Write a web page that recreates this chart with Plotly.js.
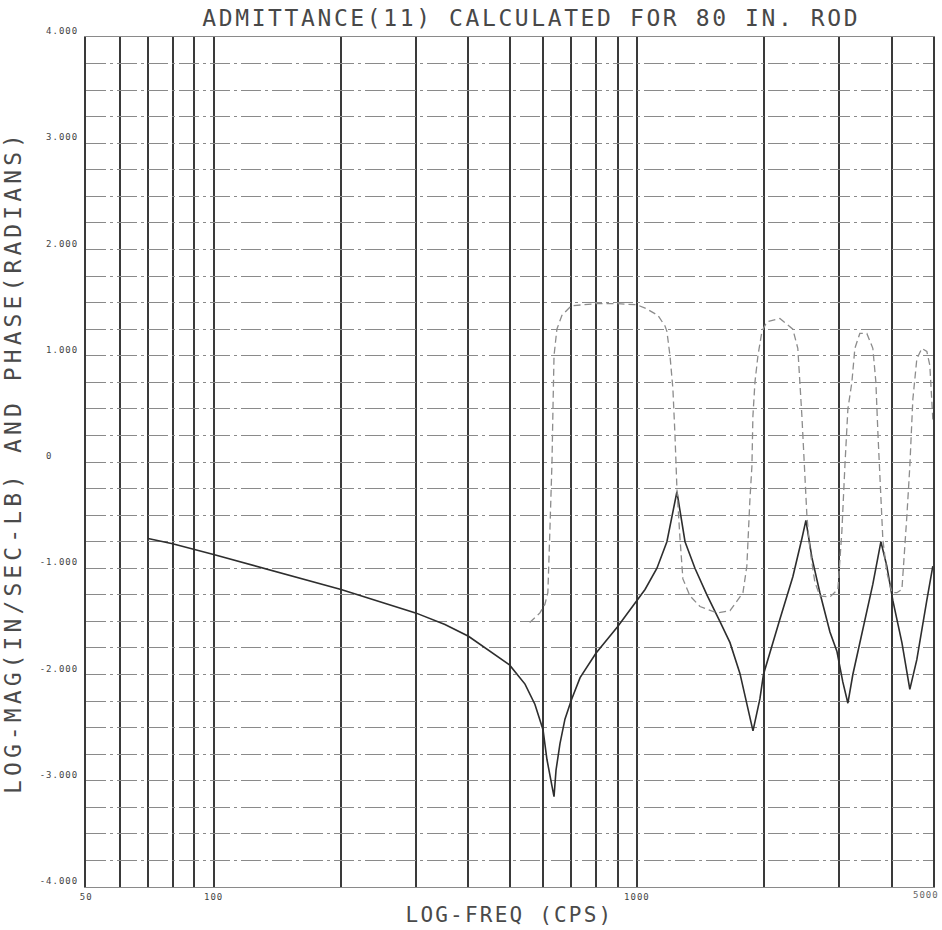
<!DOCTYPE html>
<html>
<head>
<meta charset="utf-8">
<script src="https://cdn.plot.ly/plotly-3.0.1.min.js"></script>
<style>
  html, body { margin: 0; padding: 0; background: #fff; }
  #plot { width: 942px; height: 930px; }
  .gtitle { letter-spacing: 2.6px; }
  .ytitle { letter-spacing: 4.1px; }
  .xtitle { letter-spacing: 2.2px; }
  .xtick text, .ytick text, .annotation-text { letter-spacing: 1px; }
</style>
</head>
<body>
<div id="plot"></div>
<script>
// Driving-point admittance of the 80 in. rod: log magnitude and phase vs frequency
const magFreq = [70, 80, 100, 131, 200, 300, 352, 400, 438, 500, 544, 574, 600, 606, 613, 630, 637,
  644, 658, 676, 700, 734, 762, 800, 900, 1000, 1045, 1115, 1177, 1243, 1299, 1371, 1463, 1570,
  1659, 1751, 1849, 1880, 1952, 1990, 2176, 2335, 2453, 2507, 2590, 2705, 2857, 2967, 3064,
  3150, 3236, 3417, 3608, 3770, 3893, 4021, 4226, 4412, 4583, 4840, 5000];
const logMag = [-0.72, -0.77, -0.87, -1.0, -1.2, -1.42, -1.53, -1.64, -1.75, -1.91, -2.09, -2.28, -2.52, -2.64, -2.8, -3.05, -3.15,
  -2.9, -2.65, -2.42, -2.24, -2.03, -1.93, -1.8, -1.55, -1.3, -1.2, -1.0, -0.75, -0.28, -0.75, -1.0, -1.25, -1.5,
  -1.7, -1.99, -2.4, -2.53, -2.23, -2.0, -1.48, -1.08, -0.72, -0.55, -0.9, -1.23, -1.6, -1.78, -2.07,
  -2.27, -2.0, -1.57, -1.15, -0.75, -0.98, -1.3, -1.7, -2.14, -1.86, -1.3, -0.98];

const phaseFreq = [558, 590, 606, 616, 623, 630, 634, 637, 647, 665, 700, 800, 900, 1000, 1056,
  1121, 1165, 1177, 1197, 1216, 1230, 1243, 1263, 1284, 1334, 1409, 1545, 1659, 1780, 1818,
  1849, 1869, 1879, 1900, 1931, 1974, 2028, 2176, 2335, 2399, 2453, 2493, 2521, 2562, 2632,
  2705, 2857, 2983, 3048, 3099, 3150, 3219, 3272, 3361, 3492, 3608, 3668, 3708, 3770, 3810,
  3893, 4002, 4111, 4226, 4341, 4412, 4485, 4583, 4710, 4840, 4919, 4973, 5000];
const phase = [-1.51, -1.42, -1.34, -1.23, -0.63, 0, 0.59, 1.0, 1.25, 1.38, 1.47, 1.49, 1.49, 1.48, 1.44,
  1.38, 1.28, 1.23, 1.0, 0.69, 0.25, -0.25, -0.7, -1.1, -1.26, -1.36, -1.42, -1.40, -1.23, -0.98,
  -0.35, -0.04, 0.43, 0.75, 1.0, 1.23, 1.32, 1.35, 1.25, 1.07, 0.43, -0.19, -0.51, -0.82, -1.13,
  -1.26, -1.27, -1.2, -0.66, -0.04, 0.5, 0.75, 1.07, 1.21, 1.21, 1.07, 0.75, 0.28, -0.35, -0.73,
  -1.04, -1.23, -1.23, -1.2, -0.51, -0.04, 0.59, 0.97, 1.07, 1.04, 0.91, 0.59, 0.4];

// Log-cycle frequency grid and its labels; the right-hand end label sits just inside the sheet
const freqGrid = [50, 60, 70, 80, 90, 100, 200, 300, 400, 500, 600, 700, 800, 900, 1000, 2000, 3000, 4000, 5000];
const freqLabels = ['50', '', '', '', '', '100', '', '', '', '', '', '', '', '', '1000', '', '', '', ''];
const endFreq = 5000;
const endFreqLabel = '5000';

// Ordinate grid every quarter unit, labelled at whole units (zero printed left-justified)
const yLabelVals = [4, 3, 2, 1, 0, -1, -2, -3, -4];
const yLabelText = ['4.000', '3.000', '2.000', '1.000', '0\u00a0\u00a0\u00a0\u00a0', '-1.000', '-2.000', '-3.000', '-4.000'];
const yGrid = [];
const yGridText = [];
for (let v = -4; v <= 4.0001; v += 0.25) {
  const r = Math.round(v * 100) / 100;
  yGrid.push(r);
  const k = yLabelVals.indexOf(r);
  yGridText.push(k >= 0 ? yLabelText[k] : '');
}

const plotFont = 'DejaVu Sans Mono, monospace';

const traces = [
  {
    x: magFreq, y: logMag, type: 'scatter', mode: 'lines', name: 'LOG-MAG',
    line: { color: '#2e2e2e', width: 1.6 }, hoverinfo: 'x+y'
  },
  {
    x: phaseFreq, y: phase, type: 'scatter', mode: 'lines', name: 'PHASE',
    line: { color: '#8c8c8c', width: 1.3, dash: '7px,4px' }, hoverinfo: 'x+y'
  }
];

const layout = {
  width: 942, height: 930,
  margin: { l: 86, r: 9, t: 37, b: 43 },
  paper_bgcolor: '#ffffff', plot_bgcolor: '#ffffff',
  showlegend: false,
  font: { family: plotFont, color: '#3a3a3a' },
  title: {
    text: 'ADMITTANCE(11) CALCULATED FOR 80 IN. ROD',
    font: { family: plotFont, size: 23, color: '#484848' },
    x: 0.564, xref: 'container', xanchor: 'center',
    y: 0.981, yref: 'container', yanchor: 'middle'
  },
  xaxis: {
    type: 'log',
    range: [Math.log10(50) - 0.0004, Math.log10(5000) + 0.0004],
    tickmode: 'array', tickvals: freqGrid, ticktext: freqLabels,
    showgrid: true, gridcolor: '#3a3a3a', gridwidth: 2,
    zeroline: false, showline: true, mirror: true, linecolor: '#8a8a8a', linewidth: 1,
    ticks: '',
    tickfont: { family: plotFont, size: 9, color: '#444' },
    ticklabelstandoff: 1,
    title: {
      text: 'LOG-FREQ (CPS)',
      font: { family: plotFont, size: 21, color: '#4a4a4a' },
      standoff: 6
    }
  },
  yaxis: {
    range: [-4, 4],
    tickmode: 'array', tickvals: yGrid, ticktext: yGridText,
    showgrid: true, gridcolor: '#8a8a8a', gridwidth: 1, griddash: '20px,4px,3px,4px',
    zeroline: false, showline: true, mirror: true, linecolor: '#3a3a3a', linewidth: 2,
    ticks: '',
    tickfont: { family: plotFont, size: 9, color: '#444' },
    ticklabelstandoff: 4, ticklabelshift: -6,
    title: {
      text: 'LOG-MAG(IN/SEC-LB) AND PHASE(RADIANS)',
      font: { family: plotFont, size: 23, color: '#4a4a4a' },
      standoff: 13
    }
  },
  annotations: [
    {
      x: Math.log10(endFreq), xref: 'x', y: 0, yref: 'paper',
      text: endFreqLabel, showarrow: false,
      xanchor: 'center', yanchor: 'top', xshift: -7, yshift: -1,
      font: { family: plotFont, size: 9, color: '#666' }
    }
  ]
};

Plotly.newPlot('plot', traces, layout, { displayModeBar: false, staticPlot: true });
</script>
</body>
</html>
